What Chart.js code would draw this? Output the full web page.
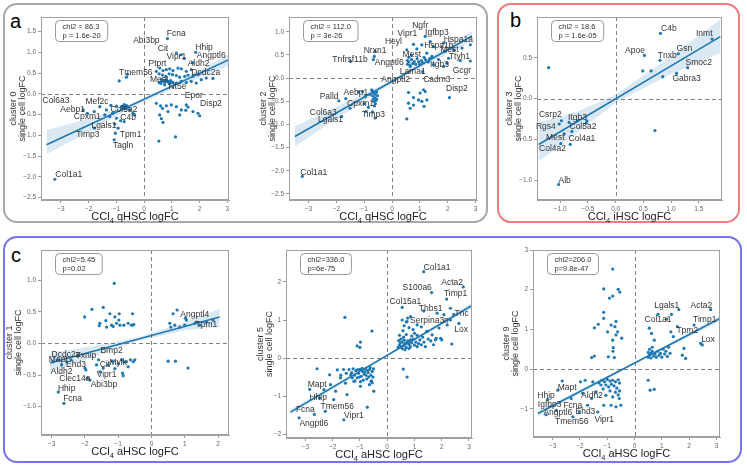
<!DOCTYPE html>
<html>
<head>
<meta charset="utf-8">
<script src="https://cdn.jsdelivr.net/npm/chart.js@4.4.1/dist/chart.umd.min.js"></script>
<style>
  body { margin: 0; width: 747px; height: 466px; background: #fff; position: relative; overflow: hidden;
         font-family: "Liberation Sans", Arial, sans-serif; }
  .box { position: absolute; border: 2px solid; border-radius: 14px; box-sizing: border-box; }
  .tag { position: absolute; font-size: 20px; line-height: 20px; color: #000; }
  canvas { position: absolute; }
</style>
</head>
<body>
<div class="box" style="left:3px;top:3px;width:485px;height:220px;border-color:#a8a8a8"></div>
<div class="box" style="left:497px;top:3px;width:243px;height:220px;border-color:#f07c7c"></div>
<div class="box" style="left:3px;top:236px;width:739px;height:227px;border-color:#7474ee"></div>
<div class="tag" style="left:10px;top:11px">a</div>
<div class="tag" style="left:510px;top:10px">b</div>
<div class="tag" style="left:11px;top:245px">c</div>

<script>
// ---- cluster 0 vs CCl4 qHSC ----
const cluster0Pts = [
  [-3.22,-2.06],[0.84,1.33],[1.16,0.98],[1.34,0.94],[1.86,1.0],[1.75,0.75],[1.45,0.85],
  [0.56,0.62],[0.68,0.56],[0.80,0.58],[0.92,0.60],[1.04,0.56],[1.22,0.62],[1.34,0.60],[1.52,0.54],[1.70,0.58],
  [0.44,0.54],[0.54,0.48],[0.66,0.45],[0.78,0.42],[0.90,0.48],[1.02,0.46],[1.16,0.44],[1.28,0.40],[1.46,0.42],
  [1.58,0.45],[1.76,0.42],[1.94,0.46],[2.06,0.34],[2.24,0.38],[2.48,0.37],
  [0.80,0.34],[0.92,0.30],[1.04,0.27],[1.16,0.26],[1.34,0.30],[1.52,0.27],[1.70,0.30],[1.88,0.26],[0.74,0.22],
  [0.54,0.27],[0.62,0.34],[0.70,0.32],[0.75,0.28],[0.85,0.30],[0.90,0.25],[0.95,0.32],[1.00,0.28],[0.65,0.30],[0.60,0.25],
  [-0.64,0.40],[-0.90,0.31],[-0.60,0.47],
  [0.59,-0.29],[0.66,-0.35],[0.80,-0.29],[0.98,-0.27],[1.16,-0.31],[1.34,-0.39],[1.52,-0.27],[1.58,-0.32],
  [1.94,-0.47],[2.00,-0.53],[0.56,-0.51],[0.62,-0.60],[0.68,-0.69],[0.86,-0.43],[1.28,-0.51],[1.50,-0.40],
  [0.53,-1.14],[1.13,-1.04],[0.44,-0.23],[1.76,-0.43],
  [-2.20,-0.39],[-2.05,-0.47],[-1.80,-0.43],[-1.60,-0.31],[-1.36,-0.39],[-1.14,-0.47],[-1.00,-0.59],[-0.85,-0.65],
  [-0.72,-0.67],[-1.06,-0.73],[-0.94,-0.83],[-1.79,-0.83],[-1.04,-0.95],[-1.08,-1.11],[-1.24,-0.55],[-1.42,-0.51],
  [-0.52,-0.39],[-0.40,-0.47],[-0.34,-0.51],[-0.82,-0.31],
  [-0.75,-0.30],[-0.70,-0.32],[-0.65,-0.28],[-0.60,-0.33],[-0.68,-0.36],[-0.72,-0.26],[-0.62,-0.30],[-0.78,-0.34],
  [-1.00,-0.30],[-1.20,-0.28]
];
const cluster0Genes = [
  ["Abi3bp",0.08,1.28],["Fcna",1.16,1.44],["Cit",0.68,1.09],["Vipr1",1.16,0.90],["Hhip",2.16,1.11],
  ["Angptl6",2.42,0.92],["Aldh2",1.96,0.72],["Ptprt",0.48,0.72],["Dcdc2a",2.22,0.50],["Tmem56",-0.30,0.50],
  ["Mest",0.54,0.35],["Nt5e",1.20,0.16],["Epor",1.79,-0.04],["Disp2",2.41,-0.23],["Col6a3",-3.18,-0.16],
  ["Mef2c",-1.70,-0.20],["Aebp1",-2.58,-0.39],["Col5a2",-0.73,-0.39],["Cpxm1",-2.05,-0.56],["C4b",-0.58,-0.58],
  ["Lgals1",-1.45,-0.77],["Timp3",-2.03,-0.98],["Tpm1",-0.49,-0.98],["Tagln",-0.76,-1.24],["Col1a1",-2.72,-1.94]
];
const cluster0Fit = [[-3.52,-1.23],[3.06,0.82]];
const cluster0BandX  = [-3.52,-2.0,-0.5,1.0,3.06];
const cluster0BandHi = [-0.88,-0.60,-0.25,0.23,0.95];
const cluster0BandLo = [-1.45,-0.92,-0.34,0.11,0.68];

// ---- cluster 2 vs CCl4 qHSC ----
const cluster2Pts = [
  [-3.22,-2.12],
  [1.19,0.90],[1.37,0.79],[0.77,0.73],[1.07,0.72],[1.49,0.68],[1.85,0.76],[1.91,0.58],[2.21,0.61],[2.51,0.65],
  [2.81,0.72],[2.45,0.38],[2.81,0.37],[0.53,0.61],[0.89,0.63],[1.25,0.54],[1.43,0.47],[1.67,0.40],[2.03,0.43],
  [1.49,0.29],[1.85,0.25],[1.97,0.32],[1.10,0.14],
  [0.55,0.30],[0.60,0.35],[0.65,0.28],[0.70,0.40],[0.75,0.32],[0.80,0.36],[0.85,0.30],[0.90,0.42],[0.95,0.35],
  [1.00,0.30],[1.05,0.38],[1.10,0.33],[1.15,0.45],[1.20,0.40],[0.60,0.45],[0.70,0.50],[0.55,0.38],[0.65,0.25],
  [1.30,0.35],[1.35,0.42],
  [-0.61,0.58],[-0.64,0.47],[-0.67,0.40],[-1.49,0.36],
  [0.59,-0.31],[1.01,-0.32],[1.13,-0.25],[1.19,-0.29],[0.77,-0.42],[0.95,-0.47],[0.59,-0.54],[0.65,-0.65],
  [0.53,-0.88],[1.07,-0.50],[1.25,-0.47],[1.15,-0.61],[2.06,-0.42],[0.77,-0.58],
  [-1.91,-0.49],[-1.66,-0.44],[-1.51,-0.65],[-1.81,-0.83],[-1.06,-0.29],[-0.97,-0.40],[-0.94,-0.72],[-0.85,-0.63],
  [-0.70,-0.73],[-0.61,-0.86],[-0.73,-0.25],
  [-0.70,-0.28],[-0.65,-0.32],[-0.60,-0.35],[-0.55,-0.30],[-0.70,-0.38],[-0.62,-0.42],[-0.58,-0.48],[-0.66,-0.50],
  [-0.60,-0.55],[-0.55,-0.45],[-0.68,-0.45],[-0.52,-0.38],[-0.63,-0.60],[-1.20,-0.30],[-1.00,-0.55],[-0.80,-0.35]
];
const cluster2Genes = [
  ["Ngfr",1.01,1.14],["Vipr1",0.55,0.95],["Igfbp3",1.61,0.99],["Heyl",0.05,0.78],["Hspa1a",2.38,0.83],
  ["Hspa1b",1.68,0.71],["Mest",2.06,0.61],["Nrxn1",-0.61,0.60],["Ttyh1",2.42,0.47],["Tnfrsf11b",-1.51,0.40],
  ["Mest",0.71,0.50],["Angptl6",-0.10,0.34],["Itgb3",1.70,0.29],["Lama1",0.74,0.13],["Gcgr",2.51,0.16],
  ["Angptl2",0.13,-0.04],["Cadm3",1.61,-0.04],["Disp2",2.33,-0.23],["Palld",-2.26,-0.40],["Aebp1",-1.30,-0.32],
  ["Cpxm1",-1.13,-0.55],["Col6a3",-2.47,-0.74],["Lgals1",-2.21,-0.90],["Timp3",-0.67,-0.79],["Col1a1",-2.81,-2.03]
];
const cluster2Fit = [[-3.49,-1.26],[2.87,0.91]];
const cluster2BandX  = [-3.49,-2.0,-0.3,1.0,2.87];
const cluster2BandHi = [-1.04,-0.62,-0.13,0.32,1.02];
const cluster2BandLo = [-1.47,-0.88,-0.21,0.22,0.80];

// ---- cluster 3 vs CCl4 iHSC ----
const cluster3Pts = [
  [-1.21,0.38],[0.81,0.80],[0.52,0.53],[0.80,0.47],[1.13,0.55],[1.74,0.73],[1.30,0.38],[0.49,0.34],[0.64,0.34],
  [0.85,0.27],[1.10,0.31],[-0.98,-0.27],[-1.02,-0.31],[-0.84,-0.29],[-0.93,-0.43],[-0.79,-0.40],[-0.69,-0.27],
  [-0.52,-0.27],[-0.53,-0.30],[-0.99,-0.55],[-0.82,-0.56],[0.71,-0.39],[-1.03,-1.05]
];
const cluster3Genes = [
  ["C4b",0.96,0.86],["Inmt",1.60,0.80],["Apoe",0.35,0.59],["Gsn",1.24,0.61],["Tnxb",0.93,0.53],
  ["Smoc2",1.50,0.44],["Gabra3",1.28,0.25],["Csrp2",-1.18,-0.20],["Itgb3",-0.69,-0.23],["Rgs4",-1.26,-0.34],
  ["Col5a2",-0.59,-0.34],["Mest",-1.09,-0.48],["Col4a1",-0.61,-0.49],["Col4a2",-1.14,-0.61],["Alb",-0.92,-1.00]
];
const cluster3Fit = [[-1.39,-0.56],[1.89,0.76]];
const cluster3BandX  = [-1.39,-0.7,0.0,0.9,1.89];
const cluster3BandHi = [-0.29,-0.16,0.05,0.47,0.97];
const cluster3BandLo = [-0.77,-0.42,-0.05,0.27,0.56];

// ---- cluster 1 vs CCl4 aHSC ----
const cluster1Pts = [
  [-1.12,0.95],[-1.79,0.54],[-1.45,0.57],[-2.01,0.42],[-1.25,0.47],[-1.10,0.42],[-1.37,0.36],[-1.55,0.32],
  [-1.57,0.28],[-1.35,0.26],[-1.20,0.29],[-1.05,0.32],[-0.97,0.47],[-0.98,0.37],[-0.95,0.29],[-0.83,0.29],
  [-0.70,0.32],[-0.60,0.29],[-0.57,0.47],[-0.57,0.29],[-0.53,0.30],[-1.15,0.27],
  [0.65,0.47],[0.77,0.53],[0.55,0.32],[0.58,0.26],[0.70,0.29],[0.85,0.26],[1.00,0.29],[1.05,0.37],[1.30,0.32],
  [1.35,0.34],[1.45,0.29],[1.65,0.34],[1.85,0.37],[1.02,0.40],[0.50,-0.28],[0.72,-0.28],[1.10,-0.39],
  [-2.95,-0.29],[-2.83,-0.26],[-2.70,-0.34],[-2.55,-0.29],[-2.42,-0.26],[-2.22,-0.20],[-2.00,-0.39],[-1.97,-0.42],
  [-1.93,-0.55],[-1.85,-0.58],[-2.80,-0.77],[-2.63,-0.95],[-1.65,-0.34],[-1.59,-0.26],[-1.45,-0.39],[-1.30,-0.34],
  [-1.17,-0.28],[-1.10,-0.40],[-1.00,-0.32],[-0.90,-0.26],[-0.83,-0.29],[-0.87,-0.47],[-0.85,-0.51],[-0.70,-0.37],
  [-0.63,-0.26],[-0.55,-0.29],[-0.50,-0.26],[-0.75,-0.29],[-1.55,-0.45]
];
const cluster1Genes = [
  ["Angptl4",1.30,0.45],["Tpm1",1.65,0.30],["Bmp2",-1.20,-0.12],["Dcdc2a",-2.57,-0.18],["Txnip",-1.97,-0.20],
  ["Mapt",-2.80,-0.26],["Ehd3",-2.27,-0.33],["Cit",-1.40,-0.33],["Mylk",-1.00,-0.31],["Aldh2",-2.70,-0.44],
  ["Vipr1",-1.35,-0.49],["Clec14a",-2.30,-0.55],["Abi3bp",-1.43,-0.66],["Hhip",-2.55,-0.71],["Fcna",-2.37,-0.87]
];
const cluster1Fit = [[-3.05,-0.31],[2.05,0.42]];
const cluster1BandX  = [-3.05,-1.5,-0.4,1.0,2.05];
const cluster1BandHi = [-0.15,-0.02,0.10,0.33,0.55];
const cluster1BandLo = [-0.46,-0.17,0.04,0.21,0.26];

// ---- cluster 5 vs CCl4 aHSC ----
const cluster5Pts = [
  [0.40,0.28],[0.45,0.35],[0.50,0.30],[0.55,0.42],[0.60,0.33],[0.65,0.38],[0.70,0.28],[0.75,0.45],[0.80,0.36],
  [0.85,0.30],[0.90,0.40],[0.95,0.50],[1.00,0.34],[1.05,0.42],[1.10,0.30],[1.15,0.38],[1.20,0.48],[1.25,0.35],
  [1.30,0.55],[1.35,0.42],[0.50,0.50],[0.60,0.55],[0.70,0.62],[0.55,0.25],[0.65,0.22],[0.80,0.25],[0.90,0.58],
  [1.00,0.65],[0.45,0.60],[0.58,0.72],[0.62,0.85],[0.55,1.00],[0.70,0.95],[0.80,0.80],[0.75,1.05],[0.95,0.75],
  [1.10,0.60],[1.40,0.30],[1.50,0.50],[1.60,0.45],[1.70,0.35],[1.80,0.52],[2.00,0.48],[1.45,0.70],[1.25,0.82],
  [0.85,0.48],[0.72,0.40],[0.62,0.47],[0.48,0.40],[0.42,0.46],
  [1.34,2.27],[2.79,1.87],[1.63,1.72],[2.18,1.55],[2.32,1.31],[0.55,1.33],[1.34,1.24],[1.83,1.18],[2.08,1.14],
  [2.44,1.14],[2.63,0.91],[2.32,1.00],[2.20,0.87],[2.37,0.37],[1.96,0.52],[1.77,0.48],[1.65,0.61],[1.90,0.79],
  [0.86,1.09],[0.73,0.96],[1.10,0.87],[1.47,0.70],
  [0.59,-0.29],[0.73,-0.50],[-1.55,1.07],[-0.56,0.71],[-0.98,0.42],[-1.10,0.32],[-1.00,0.28],
  [-1.40,-0.30],[-1.30,-0.38],[-1.25,-0.28],[-1.20,-0.45],[-1.15,-0.33],[-1.10,-0.52],[-1.05,-0.40],[-1.00,-0.30],
  [-0.95,-0.48],[-0.90,-0.35],[-0.85,-0.42],[-0.80,-0.28],[-0.75,-0.55],[-0.70,-0.38],[-0.65,-0.30],[-0.60,-0.45],
  [-0.55,-0.35],[-0.50,-0.28],[-0.52,-0.50],[-0.58,-0.60],[-0.68,-0.50],[-0.78,-0.45],[-0.88,-0.58],[-0.98,-0.62],
  [-1.08,-0.30],[-1.18,-0.60],[-1.28,-0.52],[-1.50,-0.40],[-1.60,-0.30],[-1.70,-0.45],[-0.62,-0.25],[-0.72,-0.32],
  [-0.82,-0.36],[-0.92,-0.27],[-1.02,-0.50],[-0.55,-0.65],[-0.65,-0.70],
  [-2.57,-0.28],[-2.84,-0.82],[-3.23,-1.57],[-2.67,-1.48],[-2.48,-1.05],[-2.27,-1.40],[-1.96,-1.09],[-1.59,-1.62],
  [-0.73,-1.29],[-2.11,-0.44],[-1.83,-0.31],[-1.71,-0.52],[-1.53,-0.66],[-1.34,-0.44],[-1.22,-0.61],[-2.08,-0.70],
  [-1.89,-0.87],[-1.47,-0.96],[-0.98,-0.74],[-0.49,-0.87],[-0.59,-0.61],[-2.32,-0.83]
];
const cluster5Genes = [
  ["Col1a1",1.83,2.38],["S100a6",1.10,1.86],["Acta2",2.38,1.99],["Timp1",2.51,1.70],["Col15a1",0.67,1.47],
  ["Thbs1",1.59,1.31],["Tnc",2.73,1.17],["Serpina3n",1.55,0.99],["Lox",2.71,0.76],["Mapt",-2.57,-0.70],
  ["Hhip",-2.53,-1.03],["Tmem56",-1.83,-1.27],["Fcna",-3.00,-1.36],["Vipr1",-1.22,-1.50],["Angptl6",-2.69,-1.73]
];
const cluster5Fit = [[-3.55,-1.42],[3.08,1.37]];
const cluster5BandX  = [-3.55,0.0,3.08];
const cluster5BandHi = [-1.35,0.09,1.44];
const cluster5BandLo = [-1.49,0.05,1.30];

// ---- cluster 9 vs CCl4 aHSC ----
const cluster9Pts = [
  [-0.80,2.52],[-1.13,2.02],[-0.80,1.84],[-0.92,1.79],[-0.60,2.01],[-0.54,1.94],[-1.13,1.43],[-1.13,1.28],
  [-1.33,1.13],[-1.47,1.04],[-0.86,1.11],[-0.68,1.20],[-0.72,1.07],[-0.62,0.94],[-0.68,0.86],[-0.47,0.78],
  [-0.99,0.94],[-0.80,0.73],[-0.78,0.54],[-0.79,0.45],[-0.96,0.31],[-0.74,0.29],[-1.47,0.33],[-1.57,0.29],
  [1.62,1.50],[2.79,1.50],[0.86,1.38],[1.18,1.26],[1.35,1.38],[2.18,1.11],[1.57,1.07],[2.42,0.65],[2.48,0.61],
  [1.81,0.52],[1.75,0.35],[1.87,0.27],[0.54,1.03],[0.62,0.90],[0.72,0.73],[1.33,0.94],[1.42,0.82],
  [0.50,0.30],[0.55,0.35],[0.60,0.40],[0.60,0.28],[0.65,0.45],[0.70,0.33],[0.75,0.38],[0.80,0.30],[0.85,0.45],
  [0.90,0.35],[0.95,0.40],[1.00,0.30],[1.05,0.50],[1.10,0.38],[1.15,0.45],[1.20,0.32],[1.25,0.55],[1.30,0.40],
  [0.55,0.50],[0.50,0.42],[0.65,0.55],
  [0.50,-0.28],[0.57,-0.53],[0.72,-0.51],
  [-2.65,-0.30],[-2.81,-0.53],[-3.18,-0.76],[-3.24,-1.15],[-2.87,-1.04],[-2.32,-0.74],[-2.02,-1.08],[-2.26,-1.20],
  [-1.57,-0.74],[-1.72,-0.91],[-1.35,-1.08],[-1.98,-0.32],[-1.81,-0.28],[-1.53,-0.32],[-1.90,-0.61],[-1.41,-0.57],
  [-1.23,-0.40],[-1.05,-0.66],[-0.86,-0.91],[-0.68,-0.95],[-0.50,-0.91],[-0.56,-0.74],[-1.13,-0.91],
  [-1.20,-0.28],[-1.10,-0.32],[-1.00,-0.26],[-0.90,-0.30],[-0.80,-0.28],[-0.70,-0.32],[-0.60,-0.27],[-0.55,-0.35],
  [-1.05,-0.40],[-0.95,-0.45],[-0.85,-0.38],[-0.75,-0.42],[-0.65,-0.48],[-0.90,-0.55],[-0.70,-0.58],[-0.60,-0.65],
  [-1.15,-0.50],[-0.80,-0.70],[-0.55,-0.55],[-1.30,-0.35]
];
const cluster9Genes = [
  ["Lgals1",1.18,1.60],["Acta2",2.45,1.60],["Col1a1",0.86,1.24],["Timp1",2.57,1.24],["Tpm2",1.93,0.96],
  ["Lox",2.69,0.75],["Mapt",-2.47,-0.46],["Aldh2",-1.56,-0.66],["Hhip",-3.24,-0.66],["Igfbp3",-3.11,-0.89],
  ["Fcna",-2.26,-0.91],["Angptl6",-2.81,-1.10],["Ehd3",-1.80,-1.08],["Tmem56",-2.30,-1.33],["Vipr1",-1.11,-1.27]
];
const cluster9Fit = [[-3.54,-1.12],[3.09,1.26]];
const cluster9BandX  = [-3.54,0.0,3.09];
const cluster9BandHi = [-1.05,0.17,1.33];
const cluster9BandLo = [-1.19,0.13,1.19];

// tick values per panel
const ticksInt = [-3,-2,-1,0,1,2,3];
const c0YTicks = [-2.5,-2,-1.5,-1,-0.5,0,0.5,1,1.5];
const c2YTicks = [-2.5,-2,-1.5,-1,-0.5,0,0.5,1];
const c3XTicks = [-1,-0.5,0,0.5,1,1.5];
const c3YTicks = [-1,-0.5,0,0.5];
const c1XTicks = [-3,-2,-1,0,1,2];
const c1YTicks = [-1,-0.5,0,0.5,1];
const c5YTicks = [-2,-1,0,1,2];
const c9YTicks = [-1,0,1,2,3];

// layout of each panel on the page (plot area in px)
const panels = [
  { box: [41,17,188,183], xr: [-3.72,3.06], yr: [-2.56,1.85], xt: ticksInt, yt: c0YTicks, xd: 0, yd: 1,
    pts: cluster0Pts, genes: cluster0Genes, fit: cluster0Fit, bx: cluster0BandX, bh: cluster0BandHi, bl: cluster0BandLo,
    cl: "cluster 0", cell: "qHSC", chi: ["chi2 = 86.3", "p = 1.6e-20"], yoff: [-27,-18] },
  { box: [289,17,188,183], xr: [-3.70,3.05], yr: [-2.63,1.32], xt: ticksInt, yt: c2YTicks, xd: 0, yd: 1,
    pts: cluster2Pts, genes: cluster2Genes, fit: cluster2Fit, bx: cluster2BandX, bh: cluster2BandHi, bl: cluster2BandLo,
    cl: "cluster 2", cell: "qHSC", chi: ["chi2 = 112.0", "p = 3e-26"], yoff: [-25,-16] },
  { box: [537,17,185,183], xr: [-1.42,1.92], yr: [-1.24,1.0], xt: c3XTicks, yt: c3YTicks, xd: 1, yd: 1,
    pts: cluster3Pts, genes: cluster3Genes, fit: cluster3Fit, bx: cluster3BandX, bh: cluster3BandHi, bl: cluster3BandLo,
    cl: "cluster 3", cell: "iHSC", chi: ["chi2 = 18.6", "p = 1.6e-05"], yoff: [-27,-18] },
  { box: [41,250,188,185], xr: [-3.32,2.33], yr: [-1.45,1.48], xt: c1XTicks, yt: c1YTicks, xd: 0, yd: 1,
    pts: cluster1Pts, genes: cluster1Genes, fit: cluster1Fit, bx: cluster1BandX, bh: cluster1BandHi, bl: cluster1BandLo,
    cl: "cluster 1", cell: "aHSC", chi: ["chi2=5.45", "p=0.02"], yoff: [-31,-22] },
  { box: [286,250,186,188], xr: [-3.71,3.11], yr: [-2.10,2.84], xt: ticksInt, yt: c5YTicks, xd: 0, yd: 0,
    pts: cluster5Pts, genes: cluster5Genes, fit: cluster5Fit, bx: cluster5BandX, bh: cluster5BandHi, bl: cluster5BandLo,
    cl: "cluster 5", cell: "aHSC", chi: ["chi2=336.0", "p=6e-75"], yoff: [-25,-16] },
  { box: [533,250,187,187], xr: [-3.72,3.13], yr: [-1.71,3.0], xt: ticksInt, yt: c9YTicks, xd: 0, yd: 0,
    pts: cluster9Pts, genes: cluster9Genes, fit: cluster9Fit, bx: cluster9BandX, bh: cluster9BandHi, bl: cluster9BandLo,
    cl: "cluster 9", cell: "aHSC", chi: ["chi2=206.0", "p=9.8e-47"], yoff: [-26,-17] }
];

const L = 44, T = 6, R = 8, B = 28;
const blue = '#1f77b4';
const FONT = '"Liberation Sans", Arial, sans-serif';

function fmt(v, d) {
  const s = Math.abs(v).toFixed(d);
  return (v < 0 ? '\u2212' : '') + s;
}

function toXY(arr) { return arr.map(p => ({ x: p[0], y: p[1] })); }

// draws frame, zero lines, gene labels, stats box and axis titles
const decorPlugin = {
  id: 'decor',
  beforeDatasetsDraw(chart) {
    const { ctx, chartArea: a, scales: { x, y } } = chart;
    ctx.save();
    ctx.strokeStyle = '#808080';
    ctx.lineWidth = 1;
    ctx.setLineDash([4, 3]);
    const x0 = Math.round(x.getPixelForValue(0)) + 0.5;
    const y0 = Math.round(y.getPixelForValue(0)) + 0.5;
    ctx.beginPath();
    ctx.moveTo(x0, a.top); ctx.lineTo(x0, a.bottom);
    ctx.moveTo(a.left, y0); ctx.lineTo(a.right, y0);
    ctx.stroke();
    ctx.restore();
  },
  afterDraw(chart) {
    const { ctx, chartArea: a, scales: { x, y } } = chart;
    const p = chart.options.plugins.decor.panel;
    ctx.save();
    // frame
    ctx.strokeStyle = '#a0a0a0';
    ctx.lineWidth = 1;
    ctx.strokeRect(a.left + 0.5, a.top + 0.5, a.right - a.left - 1, a.bottom - a.top - 1);

    // gene labels
    ctx.fillStyle = '#333';
    ctx.font = '8.5px ' + FONT;
    ctx.textAlign = 'center';
    ctx.textBaseline = 'middle';
    p.genes.forEach(g => ctx.fillText(g[0], x.getPixelForValue(g[1]), y.getPixelForValue(g[2])));

    // stats box
    ctx.font = '7.5px ' + FONT;
    const tw = Math.max(ctx.measureText(p.chi[0]).width, ctx.measureText(p.chi[1]).width);
    const bx = a.left + 14.5, by = a.top + 3.5, bw = tw + 14, bh = 21;
    ctx.beginPath();
    ctx.roundRect(bx, by, bw, bh, 4);
    ctx.fillStyle = '#fff';
    ctx.fill();
    ctx.strokeStyle = '#999';
    ctx.stroke();
    ctx.fillStyle = '#333';
    ctx.textAlign = 'left';
    ctx.fillText(p.chi[0], bx + 7, by + 6.5);
    ctx.fillText(p.chi[1], bx + 7, by + 15);

    // x title with subscript
    const cx = (a.left + a.right) / 2, base = a.bottom + 20;
    ctx.fillStyle = '#222';
    ctx.textBaseline = 'alphabetic';
    const big = '11px ' + FONT, small = '7.5px ' + FONT;
    const rest = ' ' + p.cell + ' logFC';
    ctx.font = big; const w1 = ctx.measureText('CCl').width, w3 = ctx.measureText(rest).width;
    ctx.font = small; const w2 = ctx.measureText('4').width;
    let sx = cx - (w1 + w2 + w3) / 2;
    ctx.font = big; ctx.fillText('CCl', sx, base);
    ctx.font = small; ctx.fillText('4', sx + w1, base + 3);
    ctx.font = big; ctx.fillText(rest, sx + w1 + w2, base);

    // y title, two rotated lines
    const cy = (a.top + a.bottom) / 2;
    ctx.font = '9px ' + FONT;
    ctx.fillStyle = '#333';
    ctx.textAlign = 'center';
    ctx.textBaseline = 'middle';
    [p.cl, 'single cell logFC'].forEach((t, i) => {
      ctx.save();
      ctx.translate(a.left + p.yoff[i], cy);
      ctx.rotate(-Math.PI / 2);
      ctx.fillText(t, 0, 0);
      ctx.restore();
    });
    ctx.restore();
  }
};

panels.forEach(p => {
  const [px, py, pw, ph] = p.box;
  const cv = document.createElement('canvas');
  cv.width = pw + L + R;
  cv.height = ph + T + B;
  cv.style.left = (px - L) + 'px';
  cv.style.top = (py - T) + 'px';
  document.body.appendChild(cv);

  const band = (arr) => p.bx.map((v, i) => ({ x: v, y: arr[i] }));

  const axis = (range, ticks, dec, isY) => ({
    type: 'linear',
    min: range[0],
    max: range[1],
    afterBuildTicks: s => { s.ticks = ticks.map(v => ({ value: v })); },
    afterFit: s => {
      if (isY) s.width = L; else s.height = B;
      s.paddingLeft = 0; s.paddingRight = 0; s.paddingTop = 0; s.paddingBottom = 0;
    },
    ticks: {
      autoSkip: false, maxRotation: 0, padding: 2, color: '#666',
      font: { size: 6.5, family: FONT },
      callback: v => fmt(v, dec)
    },
    grid: { drawOnChartArea: false, drawTicks: true, tickLength: 3, tickColor: '#999' },
    border: { display: true, color: '#a0a0a0' }
  });

  new Chart(cv, {
    type: 'scatter',
    data: {
      datasets: [
        { data: band(p.bh), showLine: true, pointRadius: 0, borderWidth: 0, borderColor: 'rgba(0,0,0,0)',
          fill: '+1', backgroundColor: 'rgba(31,119,180,0.17)' },
        { data: band(p.bl), showLine: true, pointRadius: 0, borderWidth: 0, borderColor: 'rgba(0,0,0,0)', fill: false },
        { data: toXY(p.fit), showLine: true, pointRadius: 0, borderColor: blue, borderWidth: 1.6, fill: false },
        { data: toXY(p.pts), pointRadius: 1.6, backgroundColor: blue, borderWidth: 0 }
      ]
    },
    options: {
      responsive: false,
      animation: false,
      events: [],
      layout: { padding: { left: 0, top: T, right: R, bottom: 0 } },
      scales: {
        x: axis(p.xr, p.xt, p.xd, false),
        y: axis(p.yr, p.yt, p.yd, true)
      },
      plugins: {
        legend: { display: false },
        tooltip: { enabled: false },
        decor: { panel: p }
      }
    },
    plugins: [decorPlugin]
  });
});
</script>
</body>
</html>
